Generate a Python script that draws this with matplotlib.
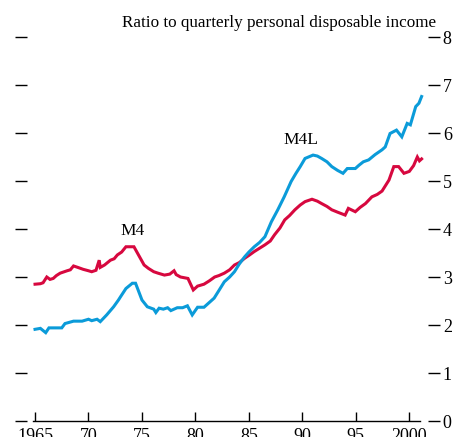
import matplotlib
matplotlib.use("Agg")
import matplotlib.pyplot as plt

plt.rcParams['font.family'] = ['Liberation Serif', 'DejaVu Serif']

m4_years = [1965.0, 1965.5, 1965.75, 1966.1, 1966.4, 1966.7, 1967.0, 1967.35, 1968.0, 1968.3, 1968.6, 1969.0,
            1969.5, 1970.0, 1970.3, 1970.7, 1971.0, 1971.1, 1971.5, 1972.05, 1972.4, 1972.7, 1973.1, 1973.5,
            1974.25, 1974.6, 1975.2, 1975.6, 1976.1, 1976.5, 1977.1, 1977.6, 1978.0, 1978.2, 1978.6, 1979.3,
            1979.8, 1980.2, 1980.8, 1981.3, 1981.8, 1982.2, 1982.7, 1983.2, 1983.65, 1984.1, 1984.6, 1985.0,
            1985.5, 1986.0, 1986.5, 1987.0, 1987.4, 1987.9, 1988.35, 1988.8, 1989.3, 1989.8, 1990.25, 1990.9,
            1991.4, 1991.8, 1992.3, 1992.75, 1993.3, 1994.0, 1994.3, 1994.95, 1995.4, 1995.9, 1996.5, 1997.0,
            1997.45, 1998.1, 1998.55, 1999.0, 1999.5, 2000.0, 2000.4, 2000.75, 2000.95, 2001.15]
m4_vals = [2.85, 2.86, 2.88, 3.00, 2.95, 2.97, 3.03, 3.08, 3.13, 3.15, 3.23, 3.20,
           3.16, 3.13, 3.11, 3.14, 3.35, 3.20, 3.25, 3.35, 3.38, 3.46, 3.52, 3.63,
           3.63, 3.49, 3.25, 3.18, 3.11, 3.08, 3.04, 3.06, 3.13, 3.05, 3.00, 2.97,
           2.73, 2.81, 2.85, 2.92, 3.00, 3.03, 3.08, 3.15, 3.25, 3.30, 3.39, 3.45,
           3.53, 3.60, 3.67, 3.75, 3.88, 4.02, 4.19, 4.28, 4.40, 4.50, 4.57, 4.62,
           4.58, 4.53, 4.47, 4.40, 4.35, 4.29, 4.43, 4.36, 4.45, 4.53, 4.67, 4.72,
           4.79, 5.02, 5.30, 5.30, 5.16, 5.20, 5.32, 5.50, 5.42, 5.46]

m4l_years = [1965.0, 1965.5, 1966.0, 1966.3, 1967.0, 1967.5, 1967.8, 1968.6, 1969.4, 1970.0, 1970.3, 1970.8,
             1971.1, 1971.7, 1972.35, 1972.8, 1973.0, 1973.5, 1974.1, 1974.4, 1975.0, 1975.5, 1976.1, 1976.3,
             1976.6, 1977.0, 1977.4, 1977.7, 1978.3, 1978.8, 1979.25, 1979.7, 1980.2, 1980.8, 1981.4, 1981.75,
             1982.2, 1982.7, 1983.2, 1983.65, 1984.1, 1984.6, 1985.0, 1985.5, 1986.0, 1986.5, 1987.1, 1987.7,
             1988.3, 1988.95, 1989.4, 1989.8, 1990.25, 1991.0, 1991.4, 1991.8, 1992.3, 1992.75, 1993.3, 1993.8,
             1994.2, 1994.95, 1995.3, 1995.7, 1996.2, 1996.8, 1997.45, 1997.75, 1998.2, 1998.8, 1999.3, 1999.8,
             2000.1, 2000.6, 2000.9, 2001.15]
m4l_vals = [1.91, 1.93, 1.84, 1.94, 1.94, 1.94, 2.03, 2.08, 2.08, 2.12, 2.09, 2.12,
            2.07, 2.21, 2.38, 2.52, 2.59, 2.76, 2.87, 2.87, 2.52, 2.38, 2.33, 2.26,
            2.35, 2.33, 2.36, 2.30, 2.36, 2.36, 2.40, 2.21, 2.37, 2.37, 2.49, 2.56,
            2.72, 2.90, 3.00, 3.11, 3.27, 3.42, 3.52, 3.63, 3.72, 3.84, 4.15, 4.40,
            4.67, 4.99, 5.16, 5.30, 5.47, 5.54, 5.52, 5.47, 5.40, 5.30, 5.22, 5.16,
            5.26, 5.26, 5.33, 5.40, 5.44, 5.55, 5.65, 5.71, 5.99, 6.06, 5.92, 6.20,
            6.17, 6.55, 6.62, 6.76]

x_ticks = [1965, 1970, 1975, 1980, 1985, 1990, 1995, 2000]
x_labels = ['1965', '70', '75', '80', '85', '90', '95', '2000']
y_ticks = [0, 1, 2, 3, 4, 5, 6, 7, 8]

red = '#d7083f'
blue = '#0b9bd9'

W, H = 455, 437
fig = plt.figure(figsize=(W / 100, H / 100), dpi=100)
ax = fig.add_axes([33 / W, 16 / H, 387 / W, 384 / H])

ax.plot(m4_years, m4_vals, color=red, lw=2.2, solid_joinstyle='miter', clip_on=False)
ax.plot(m4l_years, m4l_vals, color=blue, lw=2.2, solid_joinstyle='miter', clip_on=False)

ax.set_xlim(1964.81, 2001.0)
ax.set_ylim(0, 8)

ax.spines['top'].set_visible(False)
ax.spines['left'].set_visible(False)
ax.spines['right'].set_visible(False)
ax.spines['left'].set_position(('outward', 4.3))
ax.spines['right'].set_position(('outward', 5.8))
ax.spines['bottom'].set_linewidth(1.0)

ax.set_xticks(x_ticks)
ax.set_xticklabels(x_labels)
ax.tick_params(axis='x', direction='in', length=6.5, width=1.0, pad=5, labelsize=13)

ax.set_yticks(y_ticks)
ax.yaxis.set_ticks_position('both')
ax.tick_params(axis='y', which='both', direction='out', length=8.6, width=1.0,
               labelleft=False, labelright=True, pad=2, labelsize=13)

ax.text(1999.0 + 37 / 10.69, 8.0 + 10 / 48, 'Ratio to quarterly personal disposable income',
        ha='right', va='baseline', fontsize=12.3)
ax.text(1989.9, 5.69, 'M4L', fontsize=12.5, ha='center', va='bottom')
ax.text(1974.1, 3.79, 'M4', fontsize=12.5, ha='center', va='bottom')

fig.savefig('out.png', dpi=100)
